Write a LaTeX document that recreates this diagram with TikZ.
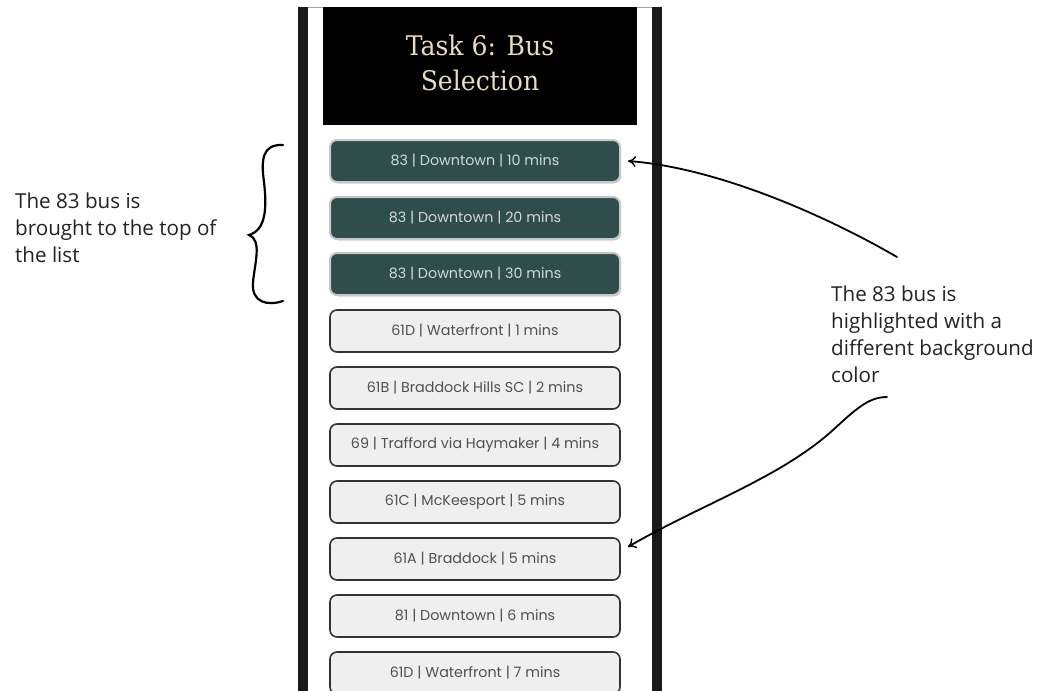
\documentclass[tikz,border=0pt]{standalone}
\usepackage{fontspec}
\setmainfont{Open Sans}
\newfontfamily\btnfont{Poppins}
\newfontfamily\titlefont[FakeStretch=0.93]{DejaVu Serif}
\usetikzlibrary{shadows,arrows.meta}
\definecolor{framegray}{HTML}{1A1A1A}
\definecolor{busgreen}{HTML}{2F4D4B}
\definecolor{busgreentext}{HTML}{D4D8D6}
\definecolor{btnfill}{HTML}{EFEFEF}
\definecolor{btnline}{HTML}{333333}
\definecolor{btntext}{HTML}{505050}
\definecolor{titlebeige}{HTML}{E8DDC4}
\definecolor{notetext}{HTML}{222222}
\tikzset{
  busbtn/.style={rounded corners=7pt, minimum width=290pt, minimum height=42pt,
    inner sep=0pt, font=\btnfont\fontsize{14.3}{16}\selectfont},
  plainbtn/.style={busbtn, fill=btnfill, draw=btnline, line width=1.6pt, text=btntext},
  greenbtn/.style={busbtn, fill=busgreen, draw=black!22, line width=2pt, text=busgreentext,
    drop shadow={opacity=0.35, shadow xshift=1.2pt, shadow yshift=-1.5pt}},
  note/.style={align=left, inner sep=0pt, anchor=north west, text=notetext,
    font=\fontsize{20.6}{27}\selectfont},
  annot/.style={line width=1.8pt, black, line cap=round},
  annotarrow/.style={annot, -{To[length=8pt, width=11pt, line width=1.4pt]}}
}
\begin{document}
\begin{tikzpicture}[x=1pt, y=-1pt]
\useasboundingbox (0,0) rectangle (1043,690);
\begin{scope}
  \clip (0,0) rectangle (1043,690);
  % phone frame
  \fill[framegray] (298,7) rectangle (308,700);
  \fill[framegray] (652,7) rectangle (662,700);
  \draw[black!35, line width=0.8pt] (308,7.4) -- (652,7.4);
  % header
  \node[fill=black, minimum width=314pt, minimum height=118pt, inner sep=0pt] (header) at (480,66) {};
  \node[text=titlebeige, align=center, inner sep=0pt,
        font=\titlefont\fontsize{27}{35}\selectfont] (title) at (480,62.5) {Task 6: Bus\\Selection};
  % bus list
  \node[greenbtn] (b1)  at (475,161) {83 | Downtown | 10 mins};
  \node[greenbtn] (b2)  at (475,218) {83 | Downtown | 20 mins};
  \node[greenbtn] (b3)  at (475,274) {83 | Downtown | 30 mins};
  \node[plainbtn] (b4)  at (475,331) {61D | Waterfront | 1 mins};
  \node[plainbtn] (b5)  at (475,388) {61B | Braddock Hills SC | 2 mins};
  \node[plainbtn] (b6)  at (475,445) {69 | Trafford via Haymaker | 4 mins};
  \node[plainbtn] (b7)  at (475,502) {61C | McKeesport | 5 mins};
  \node[plainbtn] (b8)  at (475,559) {61A | Braddock | 5 mins};
  \node[plainbtn] (b9)  at (475,616) {81 | Downtown | 6 mins};
  \node[plainbtn] (b10) at (475,673) {61D | Waterfront | 7 mins};
\end{scope}

% left annotation with brace
\node[note] (leftnote) at (15,193) {The 83 bus is\\brought to the top of\\the list};
\draw[annot, line width=2.2pt] (283,145) .. controls (262,144) and (261,160) .. (264,182)
  .. controls (267,208) and (266,230) .. (249,235)
  .. controls (262,240) and (255,262) .. (253,282)
  .. controls (251,303) and (268,306) .. (283,301);

% right annotation with arrows
\node[note] (rightnote) at (831,286) {The 83 bus is\\highlighted with a\\different background\\color};
\coordinate (s1) at (897,257);
\coordinate (s2) at (887,397);
\coordinate (k2) at (833,430);
\draw[annotarrow] (s1) .. controls (830,218) and (720,168) .. ([xshift=7pt]b1.east);
\draw[annotarrow] (s2) .. controls (868,397) and (855,410) .. (k2)
  .. controls (780,478) and (700,505) .. ([xshift=7pt,yshift=12pt]b8.east);
\end{tikzpicture}
\end{document}
